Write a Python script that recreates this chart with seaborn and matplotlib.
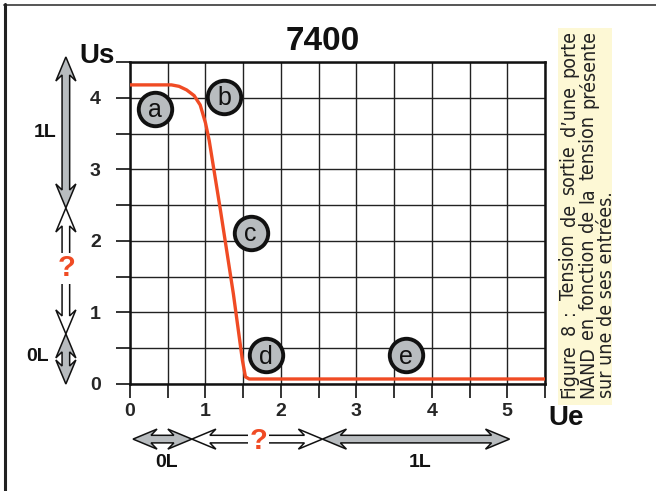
import matplotlib
matplotlib.use("Agg")
import matplotlib.pyplot as plt
import numpy as np
import pandas as pd
import seaborn as sns
from matplotlib.patches import Polygon, Rectangle
from matplotlib.lines import Line2D
from matplotlib.ticker import MultipleLocator

# transfer curve of the 7400 (Ue -> Us)
ue = [0.0, 0.55, 0.65, 0.75, 0.85, 0.93, 1.0, 1.05, 1.2, 1.37, 1.49, 1.53, 1.58, 5.5]
us = [4.18, 4.18, 4.16, 4.11, 4.03, 3.9, 3.65, 3.4, 2.42, 1.26, 0.33, 0.1, 0.07, 0.07]

# zone markers
zone_letters = ["a", "b", "c", "d", "e"]
zone_x = [0.33, 1.25, 1.6, 1.8, 3.66]
zone_y = [3.85, 4.01, 2.11, 0.4, 0.4]

# logic levels
level_names = ["0L", "?", "1L"]
in_edges = [0.04, 0.82, 2.55, 5.03]    # on Ue
out_edges = [0.0, 0.7, 2.46, 4.57]     # on Us

caption = ["Figure 8 : Tension de sortie d\u2019une porte",
           "NAND en fonction de la tension présente",
           "sur une de ses entrées."]

RED = "#f04b24"
GREY = "#b8bcbf"
INK = "#111111"

sns.set_style("white")
plt.rcParams["font.family"] = ["Liberation Sans", "DejaVu Sans"]

W, H = 656, 491
fig = plt.figure(figsize=(W / 100, H / 100), dpi=100)
ax = fig.add_axes([130 / W, 107 / H, 415 / W, 322 / H])

df = pd.DataFrame({"Ue": ue, "Us": us})
sns.lineplot(data=df, x="Ue", y="Us", ax=ax, color=RED, lw=2.4, zorder=4)

ax.set_xlim(0, 5.5)
ax.set_ylim(0, 4.5)
ax.xaxis.set_major_locator(MultipleLocator(1))
ax.xaxis.set_minor_locator(MultipleLocator(0.5))
ax.yaxis.set_major_locator(MultipleLocator(1))
ax.yaxis.set_minor_locator(MultipleLocator(0.5))
ax.grid(True, which="both", color="#222222", lw=1.0)
ax.tick_params(which="both", direction="out", length=10, width=1.2, color=INK,
               bottom=True, left=True)
ax.tick_params(axis="x", pad=4, labelsize=14)
ax.tick_params(axis="y", pad=11, labelsize=14)
for lab in ax.get_xticklabels() + ax.get_yticklabels():
    lab.set_fontweight("bold")
ax.set_xlabel("")
ax.set_ylabel("")
for sp in ax.spines.values():
    sp.set_visible(True)
    sp.set_color(INK)
    sp.set_linewidth(1.8)

# zone circles
zones = pd.DataFrame({"x": zone_x, "y": zone_y, "z": zone_letters})
sns.scatterplot(data=zones, x="x", y="y", ax=ax, s=580, color=GREY,
                edgecolor=INK, linewidth=2.8, zorder=5, clip_on=False, legend=False)
for x, y, z in zip(zone_x, zone_y, zone_letters):
    ax.text(x, y - 0.02, z, ha="center", va="center", fontsize=18, color=INK, zorder=6)
ax.set_xlabel("")
ax.set_ylabel("")

ax.text(2.55, 4.78, "7400", ha="center", va="center", fontsize=24,
        fontweight="bold", color=INK, clip_on=False)
ax.text(-0.44, 4.58, "Us", ha="center", va="center", fontsize=20,
        fontweight="bold", color=INK, clip_on=False)
ax.text(5.55, -0.47, "Ue", ha="left", va="center", fontsize=20,
        fontweight="bold", color=INK, clip_on=False)


def fat_arrow(p0, p1, fc):
    a = ax.transData.transform(p0)
    b = ax.transData.transform(p1)
    u = (b - a) / np.hypot(*(b - a))
    n = np.array([-u[1], u[0]])
    L, Hw, S, k = 24, 10, 3.8, 6
    pts = [a, a + L * u + Hw * n, a + (L - k) * u + S * n,
           b - (L - k) * u + S * n, b - L * u + Hw * n, b,
           b - L * u - Hw * n, b - (L - k) * u - S * n,
           a + (L - k) * u - S * n, a + L * u - Hw * n]
    pts = ax.transData.inverted().transform(np.array(pts))
    ax.add_patch(Polygon(pts, closed=True, fc=fc, ec=INK, lw=1.1,
                         clip_on=False, zorder=3))


fills = [GREY, "white", GREY]
ax_x = -0.85
ax_y = -0.77
for i, name in enumerate(level_names):
    fat_arrow((ax_x, out_edges[i]), (ax_x, out_edges[i + 1]), fills[i])
    fat_arrow((in_edges[i], ax_y), (in_edges[i + 1], ax_y), fills[i])

qbox = dict(boxstyle="square,pad=0.05", fc="white", ec="none")
ax.text(ax_x + 0.01, 1.62, "?", ha="center", va="center", fontsize=21,
        fontweight="bold", color=RED, clip_on=False, bbox=qbox, zorder=7)
ax.text(1.70, ax_y - 0.02, "?", ha="center", va="center", fontsize=21,
        fontweight="bold", color=RED, clip_on=False, bbox=qbox, zorder=7)
ax.text(-1.13, 3.51, "1L", ha="center", va="center", fontsize=14,
        fontweight="bold", color=INK, clip_on=False)
ax.text(-1.22, 0.38, "0L", ha="center", va="center", fontsize=14,
        fontweight="bold", color=INK, clip_on=False)
ax.text(0.49, -1.1, "0L", ha="center", va="center", fontsize=14,
        fontweight="bold", color=INK, clip_on=False)
ax.text(3.84, -1.1, "1L", ha="center", va="center", fontsize=14,
        fontweight="bold", color=INK, clip_on=False)

# caption box, justified vertical text
fig.patches.append(Rectangle((558 / W, 1 - 405 / H), 54 / W, 377 / H,
                             transform=fig.transFigure, fc="#fdf8d5", ec="none"))
cap_font = dict(rotation=90, ha="center", va="bottom", fontsize=14,
                color="#222222", family="DejaVu Sans", fontstretch="condensed")
col_x = [569, 588, 606]
y0, y1 = H - 398, H - 30
r = fig.canvas.get_renderer()
for j, line in enumerate(caption):
    if j == len(caption) - 1:
        fig.text(col_x[j] / W, y0 / H, line, **cap_font)
        continue
    words = line.split(" ")
    ts = [fig.text(col_x[j] / W, y0 / H, w, **cap_font) for w in words]
    hs = [t.get_window_extent(renderer=r).height for t in ts]
    gap = (y1 - y0 - sum(hs)) / (len(words) - 1)
    y = y0
    for t, h in zip(ts, hs):
        t.set_y(y / H)
        y += h + gap

# page frame
fig.add_artist(Line2D([4 / W, 1], [1 - 5 / H, 1 - 5 / H], color="#555555", lw=1.4))
fig.add_artist(Line2D([5 / W, 5 / W], [0, 1 - 4 / H], color="#222222", lw=2.2))

fig.savefig("out.png", dpi=100)
